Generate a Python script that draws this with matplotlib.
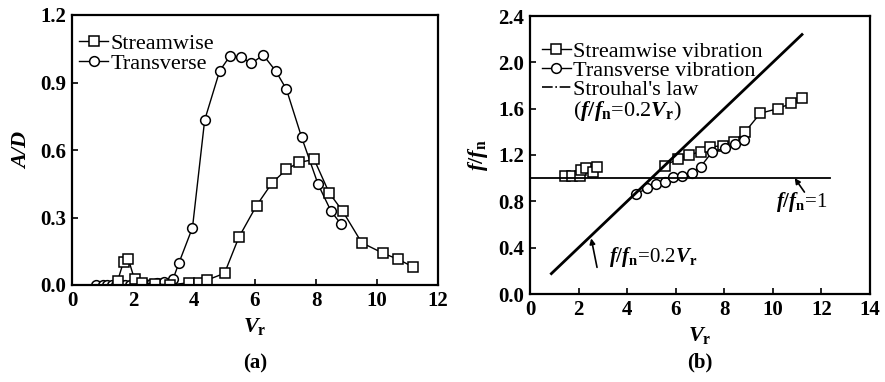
import matplotlib
matplotlib.use("Agg")
import matplotlib.pyplot as plt
from matplotlib.lines import Line2D

plt.rcParams['font.family'] = ['Liberation Serif', 'DejaVu Serif']
plt.rcParams['mathtext.fontset'] = 'custom'
plt.rcParams['mathtext.rm'] = 'Liberation Serif:bold'
plt.rcParams['mathtext.it'] = 'Liberation Serif:italic:bold'
plt.rcParams['mathtext.bf'] = 'Liberation Serif:bold'

# ---------------- data: panel (a) ----------------
a_trans_x = [0.8, 1.0, 1.15, 1.3, 1.45, 1.6, 1.75, 1.9, 2.05, 2.2, 2.4, 2.6, 2.8, 3.0,
             3.31, 3.5, 3.95, 4.35, 4.84, 5.18, 5.55, 5.88, 6.27, 6.68, 7.03, 7.53, 8.07, 8.49, 8.82]
a_trans_y = [0.0, 0.0, 0.0, 0.0, 0.0, 0.0, 0.0, 0.0, 0.0, 0.005, 0.005, 0.005, 0.008, 0.012,
             0.025, 0.096, 0.255, 0.733, 0.951, 1.018, 1.012, 0.985, 1.022, 0.951, 0.87, 0.656, 0.447, 0.329, 0.27]
a_stream_x = [1.5, 1.69, 1.85, 2.05, 2.3, 2.73, 3.2, 3.83, 4.16, 4.43, 5.0, 5.47, 6.05, 6.55,
              7.03, 7.45, 7.94, 8.43, 8.87, 9.5, 10.2, 10.7, 11.17]
a_stream_y = [0.02, 0.104, 0.114, 0.025, 0.01, 0.005, 0.0, 0.01, 0.01, 0.022, 0.052, 0.212, 0.353, 0.452,
              0.514, 0.545, 0.558, 0.41, 0.329, 0.188, 0.141, 0.114, 0.081]

# ---------------- data: panel (b) ----------------
b_stream_low_x = [1.44, 1.71, 2.04, 2.08, 2.31, 2.59, 2.75]
b_stream_low_y = [1.02, 1.02, 1.02, 1.07, 1.09, 1.05, 1.10]
b_stream_x = [5.54, 6.08, 6.56, 7.03, 7.4, 7.95, 8.39, 8.84, 9.48, 10.2, 10.75, 11.18]
b_stream_y = [1.108, 1.165, 1.2, 1.23, 1.27, 1.28, 1.315, 1.395, 1.56, 1.6, 1.645, 1.69]
b_trans_x = [4.35, 4.82, 5.17, 5.54, 5.88, 6.26, 6.67, 7.03, 7.51, 8.03, 8.46, 8.8]
b_trans_y = [0.863, 0.912, 0.947, 0.964, 1.013, 1.022, 1.042, 1.1, 1.229, 1.258, 1.295, 1.33]
strouhal_x = [0.88, 11.2]
strouhal_slope = 0.2
unity_x = [0.0, 12.35]

W, H = 885, 382
fig = plt.figure(figsize=(W / 100, H / 100), dpi=100)

def frac(l, t, r, b):
    return [l / W, 1 - b / H, (r - l) / W, (b - t) / H]

tick_fs = 15
ax1 = fig.add_axes(frac(72, 15, 438, 285))
ax2 = fig.add_axes(frac(530, 16, 870, 294))

for ax in (ax1, ax2):
    for s in ax.spines.values():
        s.set_linewidth(1.6)
    ax.tick_params(direction='in', length=4, width=1.2, labelsize=tick_fs, pad=4)

mk = dict(mfc='white', mec='black', mew=1.1, color='black', lw=1.0)

# panel (a)
ax1.plot(a_trans_x, a_trans_y, marker='o', ms=7, **mk)
ax1.plot(a_stream_x, a_stream_y, marker='s', ms=7, **mk)
ax1.set_xlim(0, 12)
ax1.set_ylim(0, 1.2)
ax1.set_xticks([0, 2, 4, 6, 8, 10, 12])
ax1.set_yticks([0.0, 0.3, 0.6, 0.9, 1.2])
ax1.set_yticklabels(['0.0', '0.3', '0.6', '0.9', '1.2'], fontweight='bold')
ax1.set_xticklabels(['0', '2', '4', '6', '8', '10', '12'], fontweight='bold')
ax1.set_xlabel(r'$V_\mathrm{r}$', fontsize=16, labelpad=4)
ax1.set_ylabel('A/D', fontsize=16, fontstyle='italic', fontweight='bold', labelpad=6)
ax1.text(0.5, -0.255, '(a)', transform=ax1.transAxes, ha='center', va='top',
         fontsize=15, fontweight='bold')
h1 = [Line2D([], [], marker='s', ms=7, **mk), Line2D([], [], marker='o', ms=7, **mk)]
ax1.legend(h1, ['Streamwise', 'Transverse'], loc='upper left', bbox_to_anchor=(0.02, 0.933),
           frameon=False, fontsize=16, handlelength=1.3, handletextpad=0.1,
           labelspacing=0.0, borderpad=0, borderaxespad=0)

# panel (b)
ax2.plot(b_stream_low_x, b_stream_low_y, marker='s', ms=7.5, ls='none', mfc='white', mec='black', mew=1.1)
ax2.plot(b_stream_x, b_stream_y, marker='s', ms=7.5, **mk)
ax2.plot(b_trans_x, b_trans_y, marker='o', ms=7, **mk)
sy = [strouhal_slope * v for v in strouhal_x]
ax2.plot(strouhal_x, sy, color='black', lw=2.0)
ax2.plot(unity_x, [1.0, 1.0], color='black', lw=1.3)
ax2.set_xlim(0, 14)
ax2.set_ylim(0, 2.4)
ax2.set_xticks([0, 2, 4, 6, 8, 10, 12, 14])
ax2.set_xticklabels(['0', '2', '4', '6', '8', '10', '12', '14'], fontweight='bold')
ax2.set_yticks([0.0, 0.4, 0.8, 1.2, 1.6, 2.0, 2.4])
ax2.set_yticklabels(['0.0', '0.4', '0.8', '1.2', '1.6', '2.0', '2.4'], fontweight='bold')
ax2.set_xlabel(r'$V_\mathrm{r}$', fontsize=16, labelpad=4)
ax2.set_ylabel(r'$f/f_\mathrm{n}$', fontsize=16, labelpad=6)
ax2.text(0.5, -0.21, '(b)', transform=ax2.transAxes, ha='center', va='top',
         fontsize=15, fontweight='bold')

h2 = [Line2D([], [], marker='s', ms=7.5, **mk), Line2D([], [], marker='o', ms=7, **mk),
      Line2D([], [], color='black', lw=1.2, ls='-.'), Line2D([], [], ls='none')]
ax2.legend(h2, ['Streamwise vibration', 'Transverse vibration', "Strouhal's law",
                r'($f/f_\mathrm{n}$=0.2$V_\mathrm{r}$)'],
           loc='upper left', bbox_to_anchor=(0.035, 0.91), frameon=False, fontsize=16,
           handlelength=1.3, handletextpad=0.1, labelspacing=-0.06, borderpad=0, borderaxespad=0)

arrow = dict(arrowstyle='-|>', color='black', lw=1.2, mutation_scale=8, shrinkA=0, shrinkB=0)
ax2.text(11.2, 0.79, r'$f/f_\mathrm{n}$=1', fontsize=15, ha='center', va='center')
ax2.annotate('', xy=(10.9, 1.0), xytext=(11.3, 0.88), arrowprops=arrow)
ax2.text(5.06, 0.32, r'$f/f_\mathrm{n}$=0.2$V_\mathrm{r}$', fontsize=15, ha='center', va='center')
ax2.annotate('', xy=(2.52, 0.48), xytext=(2.76, 0.23), arrowprops=arrow)

fig.savefig('out.png', dpi=100)
